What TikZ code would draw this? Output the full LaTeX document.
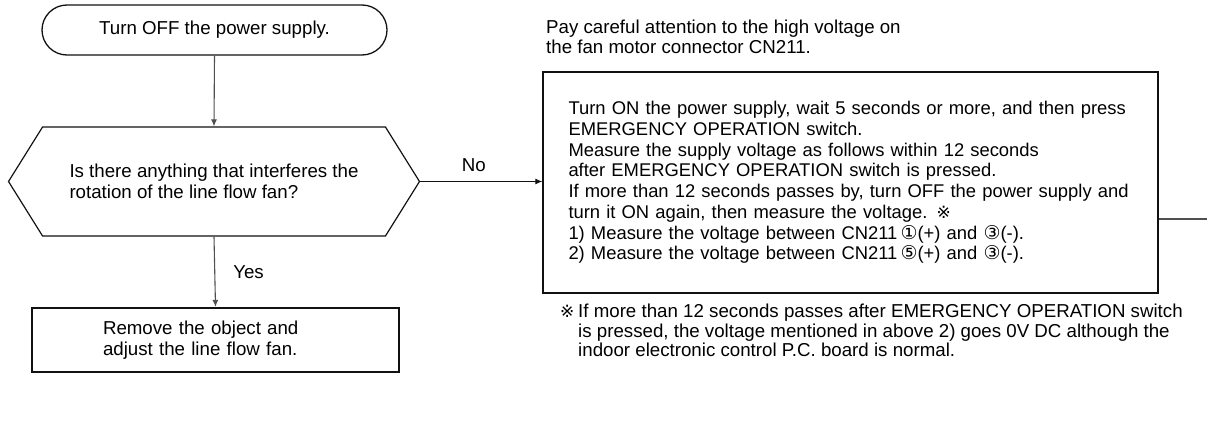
\documentclass[tikz,border=0pt]{standalone}
\usepackage{fontspec}
\setmainfont{Liberation Sans}
\newfontfamily\symfont{DejaVu Sans}
\usepackage{xcolor}
\usepackage{tikz}
\usetikzlibrary{arrows.meta,positioning,shapes.symbols}
\definecolor{ink}{HTML}{111111}
\definecolor{wire}{HTML}{505050}
\newcommand{\pin}[1]{{\symfont\fontsize{19}{19}\selectfont #1}}
\newcommand{\refmark}{{\symfont\fontsize{17}{17}\selectfont ※}}

\begin{document}
\begin{tikzpicture}[
  x=1pt, y=-1pt,
  font=\fontsize{18.7}{20.7}\selectfont,
  term/.style={draw=ink, line width=1.3pt, rounded corners=25pt,
              minimum width=345pt, minimum height=50pt, inner sep=0pt},
  quest/.style={draw=ink, line width=1.2pt, shape=signal, signal to=west and east,
              signal pointer angle=116, minimum width=411pt, minimum height=109pt,
              align=left, inner sep=0pt, font=\fontsize{18.7}{21}\selectfont},
  box/.style={draw=ink, line width=1.4pt, align=left, inner xsep=25.5pt,
              text width=564pt, minimum height=221pt, font=\fontsize{18.4}{20.7}\selectfont},
  fix/.style={draw=ink, line width=2.2pt, align=left, inner xsep=71pt,
              text width=225pt, minimum height=64pt},
  note/.style={align=left, inner sep=0pt},
  route/.style={draw=wire, line width=1.1pt, -{Latex[length=7pt,width=6pt]}},
  jump/.style={draw=ink, line width=1pt, -{Latex[length=7pt,width=6pt]}},
  tag/.style={inner sep=2pt}
]
\useasboundingbox (0,0) rectangle (1207,423);
\node[term] (off) at (214.5,30) {Turn OFF the power supply.};
\node[quest] (block) at (214,181.5) {Is there anything that interferes the\\rotation of the line flow fan?};
\node[fix] (fix) at (215.5,340) {Remove the object and\\adjust the line flow fan.};
\node[box] (check) at (850.5,182.5) {Turn ON the power supply, wait 5 seconds or more, and then press\\
EMERGENCY OPERATION switch.\\
Measure the supply voltage as follows within 12 seconds\\
after EMERGENCY OPERATION switch is pressed.\\
If more than 12 seconds passes by, turn OFF the power supply and\\
turn it ON again, then measure the voltage. \refmark\\
1) Measure the voltage between CN211\,\pin{①}(+) and \pin{③}(-).\\
2) Measure the voltage between CN211\,\pin{⑤}(+) and \pin{③}(-).};
\node[note, anchor=north west] (warn) at (546,19.5) {Pay careful attention to the high voltage on\\the fan motor connector CN211.};
\node[note, anchor=north west, font=\fontsize{18.7}{19.5}\selectfont] (foot) at (560,304)
  {\makebox[18pt][l]{\refmark}If more than 12 seconds passes after EMERGENCY OPERATION switch\\
  \hspace*{18pt}is pressed, the voltage mentioned in above 2) goes 0V DC although the\\
  \hspace*{18pt}indoor electronic control P.C. board is normal.};
\coordinate (exit) at (1207,219);

\draw[route] (off.south) -- (block.north);
\draw[route] (block.south) -- node[tag, right=16pt]{Yes} (fix.north);
\draw[jump] (block.east) -- node[tag, above=7pt, pos=0.44]{No} (block.east -| check.west);
\draw[draw=wire, line width=1.1pt] (check.east |- exit) -- (exit);
\end{tikzpicture}
\end{document}
